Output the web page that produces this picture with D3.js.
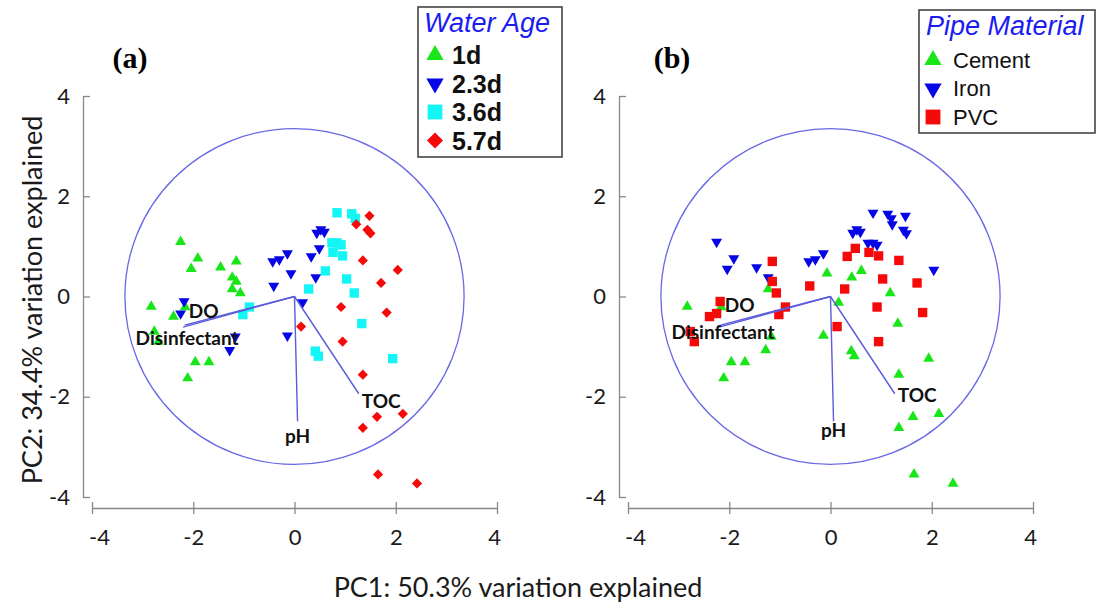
<!DOCTYPE html>
<html><head><meta charset="utf-8">
<script src="https://cdn.jsdelivr.net/npm/d3@7"></script>
<style>body{margin:0;background:#fff}svg{display:block}</style>
</head><body>
<svg id="chart" width="1099" height="607"></svg>
<script>
// ---- data ----
const ageLevels = ["1d", "2.3d", "3.6d", "5.7d"];
const pipeLevels = ["Cement", "Iron", "PVC"];
const tickValues = [-4, -2, 0, 2, 4];

// PCA scores (PC1, PC2), water age and pipe material of each sample
const pc1 = [
  -2.25,-1.91,-2.04,-1.46,-1.23,-1.15,-1.15,-1.23,-1.07,-2.83,-2.39,-2.16,-2.77,-2.69,-1.96,-1.69,-2.11,
  -2.18,-2.25,-1.17,-1.28,-0.43,-0.30,-0.14,-0.07,-0.41,0.33,0.42,0.49,0.44,0.52,0.59,0.16,-0.14,
  0.84,1.13,1.20,0.74,0.84,0.92,0.76,0.95,0.61,0.28,1.03,1.18,-0.89,-1.02,1.33,0.41,0.47,1.94,
  1.48,1.22,1.44,1.50,1.35,2.04,1.71,0.92,1.82,0.13,0.95,1.35,1.63,2.14,1.35,1.65,2.42
];
const pc2 = [
  1.09,0.76,0.55,0.58,0.38,0.70,0.30,0.15,0.07,-0.20,-0.40,-0.21,-0.70,-0.90,-1.31,-1.31,-1.63,
  -0.10,-0.34,-0.80,-1.07,0.70,0.74,0.86,0.46,0.21,0.80,0.38,0.96,1.27,1.34,1.29,-0.12,-0.78,
  1.67,1.65,1.56,1.07,1.07,1.03,0.88,0.81,0.51,0.15,0.35,0.07,-0.21,-0.36,-0.54,-1.09,-1.19,-1.24,
  1.61,1.44,1.33,1.26,0.72,0.53,0.27,-0.21,-0.32,-0.60,-0.90,-1.56,-2.40,-2.34,-2.62,-3.55,-3.73
];
const waterAge = [
  "1d","1d","1d","1d","1d","1d","1d","1d","1d","1d","1d","1d","1d","1d","1d","1d","1d",
  "2.3d","2.3d","2.3d","2.3d","2.3d","2.3d","2.3d","2.3d","2.3d","2.3d","2.3d","2.3d","2.3d","2.3d","2.3d","2.3d","2.3d",
  "3.6d","3.6d","3.6d","3.6d","3.6d","3.6d","3.6d","3.6d","3.6d","3.6d","3.6d","3.6d","3.6d","3.6d","3.6d","3.6d","3.6d","3.6d",
  "5.7d","5.7d","5.7d","5.7d","5.7d","5.7d","5.7d","5.7d","5.7d","5.7d","5.7d","5.7d","5.7d","5.7d","5.7d","5.7d","5.7d"
];
const pipeMaterial = [
  "Iron","Iron","Iron","Iron","Iron","PVC","PVC","Cement","PVC","Cement","PVC","Cement","PVC","PVC","Cement","Cement","Cement",
  "PVC","PVC","Cement","Cement","Iron","Iron","Iron","Cement","PVC","PVC","Cement","PVC","Iron","Iron","Iron","Cement","Cement",
  "Iron","Iron","Iron","Iron","Iron","Iron","PVC","PVC","Cement","PVC","PVC","Cement","PVC","PVC","Cement","Cement","Cement","Cement",
  "Iron","Iron","Iron","Iron","PVC","Iron","PVC","PVC","PVC","PVC","PVC","Cement","Cement","Cement","Cement","Cement","Cement"
];

// loading vectors
const variables = ["DO", "Disinfectant", "pH", "TOC"];
const loadPC1 = [-2.17, -2.20, 0.06, 1.27];
const loadPC2 = [-0.57, -0.61, -2.49, -1.94];
const circleRadius = 3.35;

// ---- drawing ----
const svg = d3.select("#chart");
const samples = pc1.map((x, i) => ({x, y: pc2[i], age: waterAge[i], pipe: pipeMaterial[i]}));

const ageStyle = {
  "1d":   {shape: "up",     color: "#19e619"},
  "2.3d": {shape: "down",   color: "#0505e6"},
  "3.6d": {shape: "square", color: "#14f5f5"},
  "5.7d": {shape: "diamond",color: "#f50a0a"}
};
const pipeStyle = {
  "Cement": {shape: "up",     color: "#19e619"},
  "Iron":   {shape: "down",   color: "#0505e6"},
  "PVC":    {shape: "square", color: "#f50a0a"}
};

function symbolPath(shape, scale) {
  if (shape === "up" || shape === "down") return d3.symbol(d3.symbolTriangle, 52 * scale)();
  if (shape === "square") return d3.symbol(d3.symbolSquare, 88 * scale)();
  return d3.symbol(d3.symbolSquare, 52 * scale)();
}
function symbolRot(shape) {
  return shape === "down" ? " rotate(180)" : shape === "diamond" ? " rotate(45)" : "";
}

const panels = [
  {key: "age", tag: "(a)", tagX: 130, xRange: [92, 497], yAxisX: 83, labelDy: 2,
   levels: ageLevels, style: ageStyle,
   legend: {x: 418, y: 7, w: 144, h: 150, title: "Water Age", titleY: 32, titleX: 424,
            itemY: 55, step: 28.5, symX: 435, textX: 452, weight: "bold", size: 25}},
  {key: "pipe", tag: "(b)", tagX: 672, xRange: [628, 1033], yAxisX: 619, labelDy: -4,
   levels: pipeLevels, style: pipeStyle,
   legend: {x: 919, y: 10, w: 176, h: 123, title: "Pipe Material", titleY: 35, titleX: 926,
            itemY: 60, step: 28.5, symX: 933, textX: 953, weight: "normal", size: 22}}
];

const yScale = d3.scaleLinear().domain([-4, 4]).range([497, 96]);

panels.forEach(p => {
  const x = d3.scaleLinear().domain([-4, 4]).range(p.xRange);
  const g = svg.append("g");

  // y axis
  const ya = g.append("g").attr("transform", `translate(${p.yAxisX},0)`)
    .call(d3.axisLeft(yScale).tickValues(tickValues).tickSize(-7).tickSizeOuter(0).tickPadding(13)
      .tickFormat(d3.format("d")));
  // x axis
  const xa = g.append("g").attr("transform", `translate(0,508)`)
    .call(d3.axisBottom(x).tickValues(tickValues).tickSize(6).tickSizeOuter(0).tickPadding(15)
      .tickFormat(d3.format("d")));
  xa.selectAll(".tick line").attr("y1", -6);
  xa.selectAll(".tick text").attr("dx", (d) => d === -4 ? 7 : d === 4 ? -3 : 0);
  [ya, xa].forEach(a => {
    a.select(".domain").attr("stroke", "#888").attr("stroke-width", 1.3);
    a.selectAll(".tick line").attr("stroke", "#888").attr("stroke-width", 1.3);
    a.selectAll(".tick text").attr("font-family", "Lato, 'Open Sans', sans-serif")
      .attr("font-size", 22).attr("fill", "#1a1a1a");
  });
  ya.selectAll(".tick text").text(d => d < 0 ? "-" + Math.abs(d) : d);
  xa.selectAll(".tick text").text(d => d < 0 ? "-" + Math.abs(d) : d);

  // points
  const st = p.style;
  const ordered = p.levels.flatMap(l => samples.filter(s => (p.key === "age" ? s.age : s.pipe) === l));
  g.append("g").selectAll("path").data(ordered).join("path")
    .attr("d", d => symbolPath(st[p.key === "age" ? d.age : d.pipe].shape, 1))
    .attr("transform", d => `translate(${x(d.x)},${yScale(d.y)})` + symbolRot(st[p.key === "age" ? d.age : d.pipe].shape))
    .attr("fill", d => st[p.key === "age" ? d.age : d.pipe].color);

  // correlation circle
  g.append("ellipse")
    .attr("cx", x(0)).attr("cy", yScale(0))
    .attr("rx", x(circleRadius) - x(0)).attr("ry", yScale(0) - yScale(circleRadius))
    .attr("fill", "none").attr("stroke", "#6868e6").attr("stroke-width", 1.3);

  // loading vectors
  variables.forEach((v, i) => {
    g.append("line")
      .attr("x1", x(0)).attr("y1", yScale(0))
      .attr("x2", x(loadPC1[i])).attr("y2", yScale(loadPC2[i]))
      .attr("stroke", "#5c5cdc").attr("stroke-width", 1.4);
  });
  const lab = [
    {dx: 19, dy: -16, anchor: "middle"},
    {dx: 4, dy: 9, anchor: "middle"},
    {dx: 0, dy: 13, anchor: "middle"},
    {dx: 3, dy: 6, anchor: "start"}
  ];
  variables.forEach((v, i) => {
    g.append("text")
      .attr("x", x(loadPC1[i]) + lab[i].dx)
      .attr("y", yScale(loadPC2[i]) + lab[i].dy + p.labelDy)
      .attr("dy", "0.35em")
      .attr("text-anchor", lab[i].anchor)
      .attr("font-family", "Lato, 'Open Sans', sans-serif").attr("font-weight", "bold")
      .attr("font-size", 19).attr("fill", "#111")
      .text(v);
  });

  // panel tag
  g.append("text").attr("x", p.tagX).attr("y", 68).attr("text-anchor", "middle")
    .attr("font-family", "'Liberation Serif', 'Times New Roman', serif").attr("font-weight", "bold")
    .attr("font-size", 30).attr("fill", "#000").text(p.tag);

  // legend
  const L = p.legend;
  const lg = g.append("g");
  lg.append("rect").attr("x", L.x).attr("y", L.y).attr("width", L.w).attr("height", L.h)
    .attr("fill", "#fff").attr("stroke", "#444").attr("stroke-width", 1.6);
  lg.append("text").attr("x", L.titleX).attr("y", L.titleY)
    .attr("font-family", "'Liberation Sans', Arial, sans-serif").attr("font-style", "italic")
    .attr("font-size", 27).attr("fill", "#1c1cf0").text(L.title);
  p.levels.forEach((lv, i) => {
    const cy = L.itemY + i * L.step;
    const s = st[lv];
    lg.append("path").attr("d", symbolPath(s.shape, 2.5))
      .attr("transform", `translate(${L.symX},${cy})` + symbolRot(s.shape))
      .attr("fill", s.color);
    lg.append("text").attr("x", L.textX).attr("y", cy).attr("dy", "0.36em")
      .attr("font-family", "'Liberation Sans', Arial, sans-serif").attr("font-weight", L.weight)
      .attr("font-size", L.size).attr("fill", "#111").text(lv);
  });
});

// axis titles
svg.append("text").attr("x", 518).attr("y", 597).attr("text-anchor", "middle")
  .attr("font-family", "Lato, 'Open Sans', sans-serif").attr("font-size", 27).attr("fill", "#1a1a1a")
  .text("PC1: 50.3% variation explained");
svg.append("text").attr("transform", "translate(42,300) rotate(-90)").attr("text-anchor", "middle")
  .attr("font-family", "Lato, 'Open Sans', sans-serif").attr("font-size", 27).attr("fill", "#1a1a1a")
  .text("PC2: 34.4% variation explained");
</script>
</body></html>
